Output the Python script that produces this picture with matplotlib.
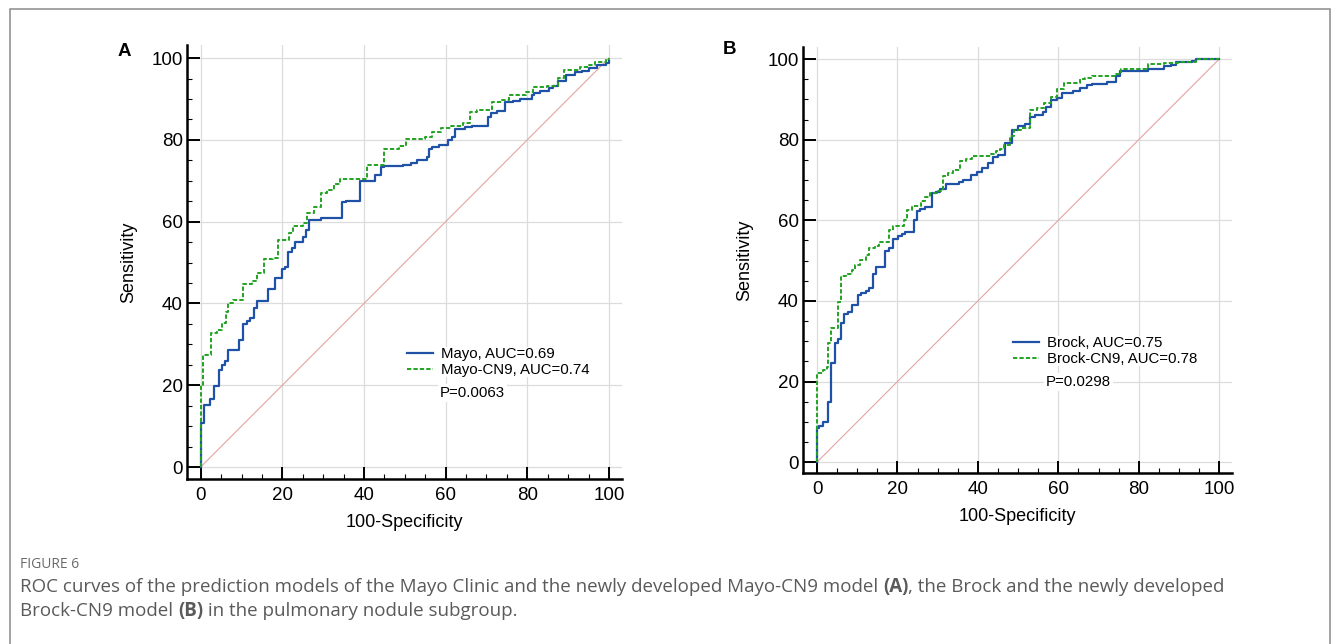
import matplotlib
matplotlib.use("Agg")
import matplotlib.pyplot as plt
from matplotlib.lines import Line2D
from matplotlib.patches import Rectangle
from matplotlib.ticker import MultipleLocator

plt.rcParams['font.family'] = ['Liberation Sans', 'DejaVu Sans']

# ROC step points (100-Specificity, Sensitivity)
mayo_x = [0, 0, 0.75, 2.3, 3.3, 4.4, 5.1, 6.0, 6.8, 9.3, 10.3, 11.3, 12.1, 13.0, 13.8, 16.4, 18.1,
          19.8, 20.7, 21.5, 22.4, 23.1, 25.1, 25.7, 26.6, 29.4, 34.7, 35.7, 39.0, 42.6, 44.2, 45.0,
          49.5, 51.6, 52.9, 55.4, 55.8, 56.7, 58.4, 60.6, 61.5, 62.3, 64.7, 66.4, 70.3, 71.2, 72.7,
          74.6, 76.5, 78.1, 81.1, 81.7, 83.2, 85.3, 86.4, 87.6, 89.5, 91.6, 93.3, 95.0, 97.1, 99.4, 100]
mayo_y = [0, 10.7, 15.2, 16.6, 19.8, 23.7, 25.0, 25.9, 28.6, 31.0, 34.9, 35.6, 36.4, 38.8, 40.7, 43.5, 46.2,
          48.4, 49.0, 52.7, 53.5, 55.1, 56.2, 58.0, 60.4, 60.8, 64.8, 65.1, 69.9, 71.3, 73.3, 73.5,
          73.9, 74.3, 75.1, 75.9, 77.8, 78.2, 78.8, 80.0, 80.8, 82.7, 83.1, 83.3, 85.7, 86.5, 87.1,
          89.2, 89.6, 90.0, 90.9, 91.4, 92.0, 92.7, 93.1, 94.3, 95.8, 96.5, 96.9, 97.6, 98.4, 98.9, 99.3]

mayo_cn9_x = [0, 0, 0.5, 2.4, 4.1, 5.2, 6.1, 6.8, 7.9, 10.3, 12.5, 13.8, 15.5, 17.6, 19.0, 21.6, 22.6,
              25.1, 26.0, 27.7, 29.4, 31.0, 32.7, 34.0, 40.7, 45.0, 48.5, 50.4, 55.0, 56.7, 58.8,
              61.3, 64.3, 65.9, 67.6, 71.4, 73.9, 75.6, 79.8, 81.5, 84.9, 87.4, 89.1, 92.9, 95.0,
              96.6, 99.2, 100]
mayo_cn9_y = [0, 20.1, 27.4, 32.7, 33.5, 35.2, 38.0, 40.2, 40.9, 44.8, 45.4, 47.4, 50.8, 51.2, 55.5, 57.2, 59.0,
              59.6, 62.2, 63.5, 67.1, 67.8, 69.2, 70.4, 73.9, 77.7, 78.4, 80.2, 80.8, 82.0, 83.0,
              83.5, 84.1, 86.7, 87.4, 89.2, 89.8, 91.0, 91.6, 92.9, 93.2, 95.1, 97.0, 97.8, 98.4,
              99.0, 99.8, 100]

brock_x = [0, 0, 0.6, 1.5, 2.6, 3.5, 4.4, 5.2, 5.9, 6.8, 7.7, 8.6, 10.1, 11.0, 12.2, 12.9, 13.8, 14.6,
           17.0, 17.9, 19.0, 20.1, 21.0, 21.9, 24.0, 24.8, 25.6, 26.8, 28.6, 29.5, 30.5, 32.1, 35.2,
           36.4, 38.2, 39.8, 41.0, 42.6, 43.7, 45.0, 46.8, 48.5, 49.9, 51.6, 53.0, 54.3, 56.1, 57.0,
           58.3, 59.6, 61.0, 63.6, 65.4, 67.2, 68.5, 72.0, 74.3, 75.4, 82.3, 86.2, 88.0, 89.3, 93.3,
           94.2, 100]
brock_y = [0, 8.4, 8.9, 10.0, 15.0, 24.5, 29.5, 30.5, 34.4, 36.8, 37.2, 39.0, 41.5, 41.9, 42.4, 43.3, 46.6, 48.3,
           52.4, 53.1, 55.3, 56.0, 56.5, 57.2, 60.1, 62.2, 62.7, 63.4, 66.7, 67.1, 67.8, 69.0, 69.6,
           70.0, 71.3, 72.0, 73.1, 74.3, 75.6, 76.2, 79.1, 82.5, 83.3, 83.9, 85.6, 86.2, 86.8, 88.1,
           89.9, 90.3, 91.7, 92.0, 92.8, 93.5, 93.9, 94.3, 95.7, 97.1, 97.6, 98.2, 98.6, 99.2, 99.6,
           100, 100]

brock_cn9_x = [0, 0, 1.5, 2.4, 2.7, 3.5, 5.2, 5.9, 7.3, 8.6, 9.5, 10.8, 12.2, 12.8, 14.4, 15.3, 17.9,
               18.8, 21.5, 22.4, 23.7, 25.9, 26.8, 28.1, 29.9, 31.2, 32.6, 33.9, 35.5, 37.0, 38.5,
               43.2, 44.5, 45.4, 46.5, 48.1, 49.0, 50.8, 53.0, 54.7, 56.5, 58.3, 59.6, 61.4, 65.4,
               66.7, 68.5, 74.3, 75.6, 82.3, 86.2, 89.8, 94.2, 100]
brock_cn9_y = [0, 22.0, 22.8, 23.7, 29.5, 33.2, 39.8, 46.2, 46.6, 47.7, 48.9, 50.2, 51.4, 53.1, 53.5, 54.5, 57.6,
               58.6, 60.1, 62.6, 63.6, 64.9, 65.7, 66.7, 67.3, 70.9, 71.7, 72.5, 74.6, 75.2, 76.0,
               76.5, 77.2, 77.7, 78.7, 81.0, 82.5, 82.9, 87.4, 87.8, 89.1, 90.7, 92.5, 94.0, 95.0,
               95.3, 95.7, 96.4, 97.5, 98.8, 99.0, 99.3, 100, 100]

BLUE = '#1f52a6'
GREEN = '#22a322'
PINK = '#e6a3a3'
GRID = '#dcdcdc'

fig = plt.figure(figsize=(13.35, 6.44), dpi=100)
W, H = 1335, 644


def px_axes(left, top, right, bottom):
    return fig.add_axes([left / W, 1 - bottom / H, (right - left) / W, (bottom - top) / H])


def style_axes(ax, xlim, ylim):
    ax.set_xlim(*xlim)
    ax.set_ylim(*ylim)
    for s in ['top', 'right']:
        ax.spines[s].set_visible(False)
    for s in ['left', 'bottom']:
        ax.spines[s].set_linewidth(1.8)
    ax.xaxis.set_major_locator(MultipleLocator(20))
    ax.yaxis.set_major_locator(MultipleLocator(20))
    ax.xaxis.set_minor_locator(MultipleLocator(5))
    ax.yaxis.set_minor_locator(MultipleLocator(5))
    ax.tick_params(which='major', direction='in', length=9, width=1.4, labelsize=13.5)
    ax.tick_params(which='minor', direction='in', length=3.5, width=0.8)
    ax.tick_params(axis='y', which='major', pad=3)
    ax.tick_params(axis='x', which='major', pad=6)
    # grid lines stop at the data range ends but reach the axes edges
    for v in range(0, 101, 20):
        ax.axvline(v, color=GRID, lw=0.9, zorder=0)
        ax.axhline(v, color=GRID, lw=0.9, zorder=0)
    ax.set_xlabel('100-Specificity', fontsize=13, labelpad=7)
    ax.set_ylabel('Sensitivity', fontsize=13, labelpad=10)


def draw_panel(ax, x1, y1, x2, y2, lab1, lab2, ptxt, leg_xy, p_xy):
    ax.plot([0, 100], [0, 100], color=PINK, lw=0.8, zorder=1)
    ax.plot(x1, y1, drawstyle='steps-post', color=BLUE, lw=1.6, zorder=3)
    ax.plot(x2, y2, drawstyle='steps-post', color=GREEN, lw=1.4, dashes=(2.2, 1.1), zorder=4)
    handles = [Line2D([], [], color=BLUE, lw=1.6),
               Line2D([], [], color=GREEN, lw=1.4, dashes=(2.2, 1.1))]
    leg = ax.legend(handles, [lab1, lab2], loc='upper left', bbox_to_anchor=leg_xy,
                    borderaxespad=0, borderpad=0, fontsize=10.8, handlelength=1.7,
                    handletextpad=0.55, labelspacing=0.12, frameon=True, fancybox=False)
    leg.get_frame().set_edgecolor('none')
    leg.get_frame().set_facecolor('white')
    leg.get_frame().set_alpha(1)
    ax.text(p_xy[0], p_xy[1], ptxt, transform=ax.transAxes, fontsize=10.8, va='center', ha='left',
            bbox=dict(facecolor='white', edgecolor='none', pad=1.5), zorder=5)


# Panel A
axA = px_axes(187, 45, 622, 479)
style_axes(axA, (-3.36, 103.2), (-2.93, 103.2))
draw_panel(axA, mayo_x, mayo_y, mayo_cn9_x, mayo_cn9_y,
           'Mayo, AUC=0.69', 'Mayo-CN9, AUC=0.74', 'P=0.0063',
           ((407 - 187) / 435, (479 - 347) / 434), ((440 - 187) / 435, (479 - 393) / 434))
fig.text(124 / W, 1 - 51 / H, 'A', fontsize=13.5, weight='bold', ha='center', va='center')

# Panel B
axB = px_axes(803, 47, 1232, 473)
style_axes(axB, (-3.5, 103.2), (-2.7, 103.0))
draw_panel(axB, brock_x, brock_y, brock_cn9_x, brock_cn9_y,
           'Brock, AUC=0.75', 'Brock-CN9, AUC=0.78', 'P=0.0298',
           ((1013 - 803) / 429, (473 - 336) / 426), ((1046 - 803) / 429, (473 - 382) / 426))
fig.text(730 / W, 1 - 50 / H, 'B', fontsize=13.5, weight='bold', ha='center', va='center')

# outer frame (bottom edge runs off the image)
fig.add_artist(Rectangle((10 / W, -0.05), 1320 / W, 1 - 9 / H + 0.05, transform=fig.transFigure,
                         fill=False, edgecolor='#8a8a8a', lw=1.1))

# caption
CAP = '#5a5a5a'
fig.text(20 / W, 1 - 565 / H, 'FIGURE 6', fontsize=10, color='#6a6a6a', family='Open Sans', va='center')

renderer = fig.canvas.get_renderer()


def rich_line(x, y, parts):
    for s, w in parts:
        t = fig.text(x, y, s, fontsize=13.5, color=CAP, family='Open Sans', weight=w, va='center')
        x += t.get_window_extent(renderer).width / W


rich_line(20 / W, 1 - 587 / H,
          [('ROC curves of the prediction models of the Mayo Clinic and the newly developed Mayo-CN9 model ', 'normal'),
           ('(A)', 'bold'), (', the Brock and the newly developed', 'normal')])
rich_line(20 / W, 1 - 611 / H,
          [('Brock-CN9 model ', 'normal'), ('(B)', 'bold'), (' in the pulmonary nodule subgroup.', 'normal')])

fig.savefig('out.png', dpi=100)
